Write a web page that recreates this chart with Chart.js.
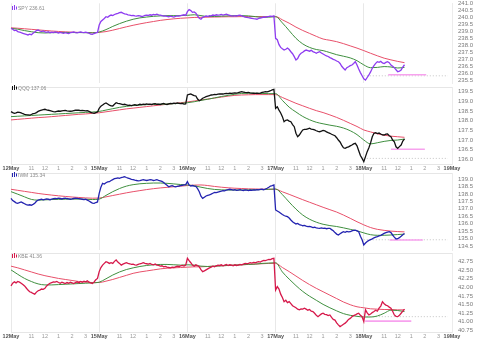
<!DOCTYPE html>
<html>
<head>
<meta charset="utf-8">
<script src="https://cdn.jsdelivr.net/npm/chart.js@4/dist/chart.umd.min.js"></script>
<style>
  html, body { margin: 0; padding: 0; background: #fff; width: 480px; height: 341px; overflow: hidden; }
  .panel { position: absolute; left: 0; width: 480px; }
  .panel canvas { display: block; }
  .tag { position: absolute; left: 12px; font: 5px Arial, "Liberation Sans", sans-serif; line-height: 6px; color: #8a8a8a; white-space: nowrap; }
  .tag svg { vertical-align: -1px; margin-right: 1px; }
</style>
</head>
<body>
<div class="panel" style="top:0px;height:86px"><canvas id="c0" width="480" height="86"></canvas></div>
<div class="panel" style="top:86px;height:86px"><canvas id="c1" width="480" height="86"></canvas></div>
<div class="panel" style="top:172px;height:80px"><canvas id="c2" width="480" height="80"></canvas></div>
<div class="panel" style="top:252px;height:89px"><canvas id="c3" width="480" height="89"></canvas></div>

<div class="tag" style="top:5px"><svg width="5" height="6" viewBox="0 0 5 6"><path d="M0.5 1v4M2.5 0v5M4.5 1.5v3" stroke="#8e3cf0" stroke-width="1"/></svg>SPY 236.61</div>
<div class="tag" style="top:85px"><svg width="5" height="6" viewBox="0 0 5 6"><path d="M0.5 1v4M2.5 0v5M4.5 1.5v3" stroke="#111" stroke-width="1"/></svg>QQQ 137.06</div>
<div class="tag" style="top:172px"><svg width="5" height="6" viewBox="0 0 5 6"><path d="M0.5 1v4M2.5 0v5M4.5 1.5v3" stroke="#2323b0" stroke-width="1"/></svg>IWM 135.34</div>
<div class="tag" style="top:253px"><svg width="5" height="6" viewBox="0 0 5 6"><path d="M0.5 1v4M2.5 0v5M4.5 1.5v3" stroke="#d6184a" stroke-width="1"/></svg>KBE 41.36</div>

<script>
// ---- time axis: trading hours since the 12 May open (6.5 h sessions) ----
const BAR_HOURS = 0.125;      // price samples every 7.5 minutes
const MA_HOURS = 0.5;         // moving-average samples every 30 minutes
const SESSION_HOURS = 6.5;
const DAY_LABELS = ['12May', '15May', '16May', '17May', '18May', '19May'];
const HOUR_LABELS = ['11', '12', '1', '2', '3'];
const SESSION_MARKS = [0, 1.5, 2.5, 3.5, 4.5, 5.5];

// ---- y tick labels per instrument ----
const SPY_TICKS = ['235.5','236.0','236.5','237.0','237.5','238.0','238.5','239.0','239.5','240.0','240.5','241.0'];
const QQQ_TICKS = ['136.0','136.5','137.0','137.5','138.0','138.5','139.0','139.5'];
const IWM_TICKS = ['134.5','135.0','135.5','136.0','136.5','137.0','137.5','138.0','138.5','139.0'];
const KBE_TICKS = ['40.75','41.00','41.25','41.50','41.75','42.00','42.25','42.50','42.75'];

// ---- SPY ----
const SPY_PRICE = [
  // 12 May
  239.21,239.15,239.05,239.08,238.98,238.95, 238.90,238.86,238.82,238.78,238.74,238.80,
  238.76,238.86,238.95,239.05,239.09,239.02, 238.98,239.03,238.95,238.93,238.97,238.90,
  238.94,238.91,238.96,238.93,238.88,238.92, 238.89,238.86,238.90,238.87,238.84,238.90,
  238.93,238.95,238.91,238.89,238.93,238.96, 238.92,238.90,238.94,238.91,238.86,238.80,
  238.78,238.84,238.88,238.92,
  // 15 May
  239.45,239.70,239.81,239.92,240.04,240.00, 240.10,240.16,240.12,240.20,240.24,240.28,
  240.33,240.36,240.30,240.25,240.22,240.18, 240.15,240.12,240.14,240.10,240.08,240.12,
  240.10,240.06,240.09,240.13,240.16,240.14, 240.18,240.15,240.20,240.17,240.22,240.18,
  240.15,240.12,240.08,240.10,240.06,240.04, 240.08,240.05,240.02,240.06,240.10,240.08,
  240.12,240.15,240.18,240.14,
  // 16 May
  240.40,240.55,240.48,240.35,240.38,240.30, 240.10,239.93,239.86,240.00,240.04,240.09,
  240.06,240.12,240.10,240.16,240.13,240.18, 240.15,240.17,240.20,240.16,240.19,240.22,
  240.18,240.14,240.10,240.09,240.12,240.08, 240.13,240.15,240.10,240.06,240.02,240.00,
  239.97,239.95,239.93,239.90,239.88,239.86, 239.92,239.95,239.98,240.02,240.00,240.04,
  240.06,240.09,240.07,240.10,
  // 17 May
  238.50,238.40,238.05,237.85,237.75,237.66, 237.72,237.80,237.70,237.54,237.40,237.19,
  236.95,237.05,237.30,237.43,237.50,237.60, 237.66,237.62,237.58,237.64,237.55,237.50,
  237.43,237.50,237.54,237.45,237.38,237.31, 237.25,237.20,237.12,237.07,237.00,236.95,
  236.88,236.83,236.70,236.50,236.36,236.24, 236.40,236.47,236.55,236.59,236.70,236.83,
  236.60,236.30,236.05,235.82,
  // 18 May
  235.60,235.52,235.70,235.88,236.10,236.36, 236.55,236.71,236.83,236.78,236.85,236.74,
  236.70,236.78,236.83,236.76,236.59,236.50, 236.40,236.25,236.11,236.15,236.24,236.45,236.61
];
const SPY_FAST = [
  239.21,239.15,239.05,238.97,238.90,238.88,238.90,238.91,238.92,238.91,238.91,238.90,238.89,
  238.95,239.12,239.35,239.55,239.72,239.86,239.96,240.02,240.07,240.10,240.12,240.12,240.12,
  240.14,240.18,240.12,240.06,240.06,240.08,240.10,240.12,240.12,240.10,240.05,240.00,240.01,
  240.04,239.60,239.05,238.50,238.10,237.85,237.70,237.62,237.48,237.33,237.22,237.10,236.90,
  236.60,236.40,236.42,236.48,236.45,236.38,236.42
];
const SPY_SLOW = [
  239.25,239.22,239.18,239.14,239.10,239.06,239.02,238.99,238.96,238.94,238.92,238.91,238.90,
  238.92,238.98,239.08,239.20,239.32,239.43,239.53,239.62,239.70,239.78,239.84,239.89,239.93,
  239.96,239.99,240.00,240.01,240.02,240.03,240.04,240.04,240.05,240.05,240.05,240.05,240.05,
  240.05,239.82,239.58,239.30,239.06,238.85,238.64,238.45,238.36,238.26,238.12,237.96,237.80,
  237.62,237.43,237.25,237.08,236.96,236.85,236.76
];

// ---- QQQ ----
const QQQ_PRICE = [
  // 12 May
  138.47,138.42,138.38,138.40,138.44,138.43, 138.40,138.36,138.33,138.31,138.30,138.29,
  138.32,138.36,138.38,138.42,138.48,138.52, 138.55,138.57,138.59,138.56,138.54,138.52,
  138.49,138.47,138.46,138.48,138.50,138.49, 138.51,138.52,138.53,138.51,138.50,138.49,
  138.50,138.52,138.54,138.55,138.54,138.52, 138.53,138.52,138.51,138.52,138.48,138.43,
  138.40,138.38,138.42,138.45,
  // 15 May
  138.64,138.75,138.81,138.88,138.92,138.86, 138.80,138.77,138.76,138.85,138.93,138.90,
  138.88,138.86,138.83,138.85,138.82,138.79, 138.80,138.78,138.81,138.83,138.80,138.82,
  138.85,138.83,138.86,138.84,138.87,138.85, 138.86,138.84,138.87,138.88,138.85,138.86,
  138.84,138.87,138.89,138.86,138.84,138.87, 138.89,138.88,138.91,138.89,138.92,138.90,
  138.88,138.89,138.86,138.87,
  // 16 May
  139.33,139.36,139.38,139.34,139.30,139.28, 139.12,139.03,139.08,139.16,139.20,139.24,
  139.27,139.30,139.33,139.34,139.36,139.35, 139.37,139.38,139.39,139.38,139.40,139.41,
  139.40,139.42,139.41,139.43,139.44,139.43, 139.45,139.48,139.50,139.48,139.46,139.45,
  139.46,139.44,139.43,139.42,139.41,139.42, 139.41,139.43,139.46,139.48,139.50,139.49,
  139.52,139.55,139.59,139.62,
  // 17 May
  138.64,138.72,138.55,138.40,138.21,137.95, 138.02,138.04,137.98,137.95,137.80,137.69,
  137.35,137.17,137.26,137.40,137.52,137.55, 137.55,137.58,137.61,137.57,137.55,137.52,
  137.48,137.45,137.43,137.46,137.50,137.48, 137.42,137.38,137.35,137.30,137.26,137.22,
  137.12,137.00,136.90,136.74,136.60,136.57, 136.62,136.65,136.70,136.74,136.80,136.83,
  136.70,136.45,136.20,136.05,
  // 18 May
  135.88,136.14,136.40,136.60,136.85,137.17, 137.35,137.38,137.33,137.36,137.31,137.27,
  137.26,137.30,137.31,137.22,137.17,137.00, 136.91,136.65,136.57,136.66,136.74,136.95,137.06
];
const QQQ_FAST = [
  138.21,138.23,138.25,138.27,138.29,138.31,138.33,138.35,138.37,138.39,138.41,138.43,138.45,
  138.48,138.55,138.62,138.69,138.74,138.78,138.81,138.83,138.84,138.85,138.86,138.88,138.90,
  138.93,138.98,139.05,139.11,139.18,139.25,139.31,139.37,139.41,139.42,139.42,139.41,139.40,
  139.40,139.05,138.70,138.45,138.22,138.05,137.92,137.84,137.77,137.71,137.62,137.48,137.28,
  137.00,136.80,136.86,136.93,136.98,137.00,137.05
];
const QQQ_SLOW = [
  138.04,138.07,138.10,138.13,138.16,138.18,138.21,138.24,138.27,138.30,138.33,138.35,138.38,
  138.41,138.46,138.51,138.56,138.61,138.65,138.69,138.73,138.77,138.81,138.85,138.89,138.93,
  138.97,139.02,139.07,139.12,139.17,139.22,139.27,139.31,139.33,139.34,139.35,139.35,139.35,
  139.35,139.20,139.05,138.90,138.77,138.64,138.52,138.42,138.30,138.17,138.02,137.86,137.70,
  137.52,137.42,137.32,137.25,137.20,137.17,137.14
];

// ---- IWM ----
const IWM_PRICE = [
  // 12 May
  137.70,137.55,137.48,137.40,137.37,137.42, 137.46,137.40,137.34,137.28,137.25,137.27,
  137.24,137.30,137.37,137.50,137.59,137.62, 137.64,137.60,137.63,137.66,137.64,137.61,
  137.65,137.68,137.70,137.68,137.71,137.69, 137.66,137.70,137.72,137.69,137.67,137.64,
  137.66,137.69,137.71,137.70,137.68,137.66, 137.64,137.62,137.64,137.58,137.52,137.45,
  137.38,137.37,137.42,137.46,
  // 15 May
  138.04,138.45,138.71,138.66,138.75,138.80, 138.82,138.90,138.96,139.02,139.05,139.08,
  139.04,139.10,139.12,139.15,139.10,139.06, 139.02,138.98,138.95,138.92,138.90,138.88,
  138.89,138.92,138.95,138.93,138.90,138.93, 138.96,138.94,138.90,138.92,138.95,138.91,
  138.88,138.84,138.76,138.66,138.58,138.48, 138.52,138.55,138.50,138.47,138.51,138.53,
  138.56,138.58,138.60,138.62,
  // 16 May
  138.82,138.60,138.53,138.56,138.52,138.50, 138.35,138.15,137.85,137.70,137.78,137.86,
  137.90,137.93,137.98,138.04,138.10,138.08, 138.12,138.15,138.18,138.22,138.20,138.26,
  138.29,138.31,138.28,138.25,138.28,138.24, 138.26,138.28,138.25,138.23,138.27,138.25,
  138.22,138.26,138.24,138.27,138.26,138.29, 138.27,138.30,138.31,138.28,138.33,138.38,
  138.45,138.53,138.56,138.60,
  // 17 May
  136.92,136.85,136.78,136.70,136.62,136.55, 136.50,136.47,136.38,136.25,136.13,136.05,
  135.98,136.02,135.94,135.91,135.86,135.88, 135.83,135.80,135.82,135.78,135.74,135.76,
  135.72,135.70,135.69,135.72,135.68,135.70, 135.66,135.69,135.69,135.60,135.52,135.40,
  135.30,135.24,135.32,135.40,135.46,135.42, 135.48,135.45,135.46,135.52,135.55,135.57,
  135.52,135.46,135.15,134.92,
  // 18 May
  134.57,134.70,134.80,134.88,134.93,134.98, 135.05,135.10,135.13,135.18,135.22,135.28,
  135.35,135.40,135.44,135.46,135.40,135.24, 135.10,134.97,134.99,135.06,135.15,135.26,135.34
];
const IWM_FAST = [
  138.15,137.98,137.80,137.63,137.58,137.60,137.62,137.63,137.64,137.65,137.65,137.64,137.62,
  137.65,137.90,138.15,138.36,138.52,138.62,138.68,138.71,138.73,138.73,138.71,138.67,138.63,
  138.60,138.55,138.45,138.36,138.30,138.27,138.26,138.26,138.26,138.27,138.28,138.29,138.31,
  138.33,137.95,137.45,136.98,136.58,136.30,136.10,135.96,135.87,135.81,135.72,135.62,135.52,
  135.38,135.26,135.22,135.22,135.24,135.27,135.30
];
const IWM_SLOW = [
  138.31,138.24,138.17,138.10,138.03,137.97,137.92,137.87,137.83,137.79,137.76,137.73,137.71,
  137.72,137.80,137.89,137.98,138.07,138.15,138.22,138.29,138.35,138.40,138.44,138.48,138.52,
  138.56,138.59,138.60,138.56,138.50,138.45,138.41,138.38,138.36,138.34,138.33,138.32,138.31,
  138.31,138.14,137.97,137.79,137.61,137.44,137.27,137.10,136.94,136.78,136.58,136.36,136.13,
  135.92,135.74,135.62,135.55,135.50,135.47,135.45
];

// ---- KBE ----
const KBE_PRICE = [
  // 12 May
  42.04,42.12,42.16,42.13,42.17,42.15, 42.12,42.08,42.04,41.98,41.92,41.87,
  41.85,41.82,41.80,41.86,41.90,41.92, 41.95,41.94,41.97,42.04,42.08,42.12,
  42.14,42.16,42.15,42.17,42.14,42.12, 42.15,42.13,42.11,42.14,42.12,42.15,
  42.13,42.11,42.14,42.16,42.13,42.17, 42.15,42.18,42.16,42.19,42.15,42.13,
  42.11,42.16,42.22,42.26,
  // 15 May
  42.46,42.58,42.65,42.70,42.75,42.73, 42.70,42.72,42.70,42.76,42.80,42.74,
  42.70,42.65,42.68,42.70,42.72,42.70, 42.69,42.67,42.68,42.66,42.65,42.67,
  42.69,42.70,42.72,42.70,42.69,42.68, 42.70,42.67,42.66,42.68,42.65,42.64,
  42.62,42.63,42.60,42.61,42.59,42.58, 42.57,42.59,42.58,42.60,42.62,42.61,
  42.63,42.64,42.62,42.65,
  // 16 May
  42.85,42.78,42.72,42.65,42.62,42.66, 42.64,42.60,42.52,42.46,42.48,42.51,
  42.54,42.57,42.59,42.62,42.60,42.63, 42.65,42.64,42.66,42.63,42.65,42.67,
  42.64,42.66,42.65,42.63,42.66,42.64, 42.65,42.67,42.66,42.68,42.70,42.69,
  42.70,42.72,42.71,42.73,42.72,42.74, 42.75,42.74,42.77,42.79,42.78,42.80,
  42.82,42.81,42.84,42.85,
  // 17 May
  41.92,42.02,41.95,41.80,41.70,41.58, 41.62,41.55,41.58,41.52,41.46,41.43,
  41.40,41.36,41.34,41.37,41.36,41.39, 41.36,41.33,41.35,41.30,41.29,41.24,
  41.18,41.14,41.18,41.22,41.24,41.21, 41.20,41.17,41.19,41.12,41.06,41.04,
  40.96,40.90,40.85,40.88,40.92,40.95, 41.00,41.06,41.09,41.14,41.17,41.19,
  41.22,41.24,41.18,41.14,
  // 18 May
  41.00,41.34,41.25,41.19,41.22,41.26, 41.29,41.33,41.30,41.39,41.45,41.58,
  41.52,41.48,41.46,41.42,41.39,41.30, 41.19,41.15,41.14,41.18,41.24,41.30,41.36
];
const KBE_FAST = [
  42.51,42.38,42.26,42.17,42.10,42.07,42.07,42.08,42.09,42.10,42.11,42.12,42.13,
  42.15,42.25,42.36,42.45,42.52,42.57,42.61,42.64,42.66,42.67,42.67,42.66,42.65,
  42.66,42.65,42.62,42.61,42.62,42.63,42.64,42.65,42.66,42.67,42.68,42.70,42.71,
  42.72,42.45,42.24,42.05,41.88,41.74,41.62,41.50,41.40,41.31,41.23,41.18,41.15,
  41.13,41.13,41.16,41.24,41.33,41.32,41.29
];
const KBE_SLOW = [
  42.62,42.57,42.51,42.45,42.39,42.34,42.30,42.26,42.23,42.20,42.17,42.15,42.14,
  42.14,42.18,42.23,42.29,42.35,42.41,42.45,42.48,42.51,42.54,42.56,42.57,42.58,
  42.59,42.60,42.60,42.61,42.62,42.63,42.64,42.65,42.66,42.67,42.68,42.69,42.70,
  42.70,42.58,42.46,42.33,42.20,42.08,41.97,41.87,41.77,41.67,41.57,41.49,41.43,
  41.40,41.37,41.36,41.35,41.35,41.34,41.34
];

// ---- reference levels on 18 May: session low marker and prior close ----
const LOW_LEVELS = [235.90, 136.52, 134.90, 41.01];
const LOW_SPANS = [[27.8, 30.6], [28.0, 30.5], [27.9, 30.35], [26.1, 29.5]];
const PRIOR_CLOSE = [235.82, 136.05, 134.92, 41.14];
const PRIOR_SPAN = [26.0, 32.2];

// ---- build the shared time ticks ----
const X_TICKS = [];
DAY_LABELS.forEach((day, d) => {
  if (d === DAY_LABELS.length - 1) {
    X_TICKS.push({ value: d * SESSION_HOURS, label: day, day: true });
    return;
  }
  SESSION_MARKS.forEach((h, k) => {
    X_TICKS.push({ value: d * SESSION_HOURS + h, label: k === 0 ? day : HOUR_LABELS[k - 1], day: k === 0 });
  });
});
const X_MAX = (DAY_LABELS.length - 1) * SESSION_HOURS;
const isDay = i => !!(X_TICKS[i] && X_TICKS[i].day);

const FONT = 'Arial, "Liberation Sans", sans-serif';
const GREEN = '#3f8f3f';
const RED = '#e8506a';
const PINK = '#f7a2ee';

const PANELS = [
  { id: 'c0', price: SPY_PRICE, fast: SPY_FAST, slow: SPY_SLOW, ticks: SPY_TICKS, color: '#8e3cf0',
    min: 235.3, max: 241.0, pad: { top: 3.3, bottom: 2.9 }, showX: false, topRule: false },
  { id: 'c1', price: QQQ_PRICE, fast: QQQ_FAST, slow: QQQ_SLOW, ticks: QQQ_TICKS, color: '#111111',
    min: 135.76, max: 139.743, pad: { top: 1, bottom: 0 }, showX: true, topRule: true },
  { id: 'c2', price: IWM_PRICE, fast: IWM_FAST, slow: IWM_SLOW, ticks: IWM_TICKS, color: '#2323b0',
    min: 134.232, max: 139.403, pad: { top: 1, bottom: 2 }, showX: false, topRule: true },
  { id: 'c3', price: KBE_PRICE, fast: KBE_FAST, slow: KBE_SLOW, ticks: KBE_TICKS, color: '#d6184a',
    min: 40.691, max: 43.005, pad: { top: 1, bottom: 1 }, showX: true, topRule: true }
];

const toPoints = (values, step) => values.map((v, i) => ({ x: i * step, y: v }));
const flat = (level, span) => [{ x: span[0], y: level }, { x: span[1], y: level }];

// thin rule along the top edge of a panel's plot area
const topRulePlugin = {
  id: 'topRule',
  afterDraw(chart, args, opts) {
    if (!opts.show) return;
    const { ctx, chartArea } = chart;
    ctx.save();
    ctx.strokeStyle = '#e6e6e6';
    ctx.lineWidth = 1;
    ctx.beginPath();
    ctx.moveTo(chartArea.left, Math.round(chartArea.top) + 0.5);
    ctx.lineTo(chartArea.right, Math.round(chartArea.top) + 0.5);
    ctx.stroke();
    ctx.restore();
  }
};

PANELS.forEach((p, n) => {
  new Chart(document.getElementById(p.id), {
    type: 'line',
    data: {
      datasets: [
        { data: toPoints(p.price, BAR_HOURS), borderColor: p.color, borderWidth: 1.3, pointRadius: 0, tension: 0, clip: false },
        { data: toPoints(p.fast, MA_HOURS), borderColor: GREEN, borderWidth: 1, pointRadius: 0, cubicInterpolationMode: 'monotone' },
        { data: toPoints(p.slow, MA_HOURS), borderColor: RED, borderWidth: 1, pointRadius: 0, cubicInterpolationMode: 'monotone' },
        { data: flat(LOW_LEVELS[n], LOW_SPANS[n]), borderColor: PINK, borderWidth: 1.6, pointRadius: 0 },
        { data: flat(PRIOR_CLOSE[n], PRIOR_SPAN), borderColor: '#c4c4c4', borderWidth: 1, borderDash: [1, 2], pointRadius: 0 }
      ]
    },
    options: {
      responsive: false,
      devicePixelRatio: 1,
      animation: false,
      events: [],
      layout: { padding: { left: 11, right: 0, top: p.pad.top, bottom: p.pad.bottom } },
      plugins: { legend: { display: false }, tooltip: { enabled: false }, topRule: { show: p.topRule } },
      scales: {
        x: {
          type: 'linear',
          min: 0,
          max: X_MAX,
          afterBuildTicks: s => { s.ticks = X_TICKS.map(t => ({ value: t.value })); },
          afterFit: s => { s.height = p.showX ? 8 : 0; s.paddingLeft = 0; s.paddingRight = 0; },
          grid: {
            drawTicks: false,
            color: ctx => isDay(ctx.index) ? '#e8e8e8' : 'rgba(0,0,0,0)'
          },
          border: { display: p.showX, color: '#e6e6e6' },
          ticks: {
            display: p.showX,
            autoSkip: false,
            maxRotation: 0,
            padding: 1,
            callback: (v, i) => (X_TICKS[i] ? X_TICKS[i].label : ''),
            color: ctx => isDay(ctx.index) ? '#555' : '#9a9a9a',
            font: ctx => ({ family: FONT, size: 5.5, weight: isDay(ctx.index) ? 'bold' : 'normal' })
          }
        },
        y: {
          type: 'linear',
          position: 'right',
          min: p.min,
          max: p.max,
          afterBuildTicks: s => { s.ticks = p.ticks.map(t => ({ value: parseFloat(t) })); },
          afterFit: s => { s.width = 28; s.paddingTop = 0; s.paddingBottom = 0; },
          grid: { display: false, drawTicks: false },
          border: { display: true, color: '#ececec' },
          ticks: {
            autoSkip: false,
            padding: 6,
            callback: (v, i) => p.ticks[i],
            color: '#7a7a7a',
            font: { family: FONT, size: 6 }
          }
        }
      }
    },
    plugins: [topRulePlugin]
  });
});
</script>
</body>
</html>
